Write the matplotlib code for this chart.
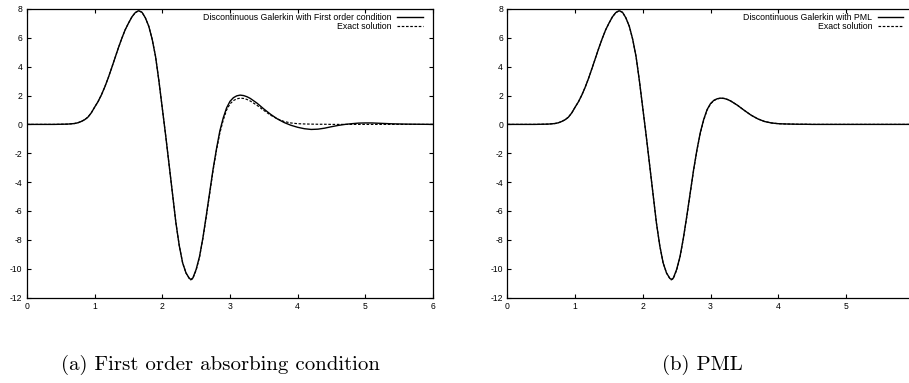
import matplotlib.pyplot as plt
import numpy as np

plt.rcParams['axes.unicode_minus'] = False
plt.rcParams['font.family'] = ['Liberation Sans', 'DejaVu Sans']

# values
x = [0.0, 0.2, 0.4, 0.5, 0.6, 0.7, 0.75, 0.8, 0.85, 0.9, 0.95, 1.0, 1.05, 1.1,
     1.15, 1.2, 1.25, 1.3, 1.35, 1.4, 1.45, 1.5,
     1.55, 1.6, 1.65, 1.7, 1.75, 1.8, 1.85, 1.9, 1.95, 2.0, 2.05, 2.1, 2.15,
     2.2, 2.25, 2.3, 2.35, 2.4, 2.42, 2.45, 2.5, 2.55, 2.6, 2.65, 2.7, 2.75,
     2.8, 2.85, 2.9, 2.95, 3.0, 3.05, 3.1, 3.15, 3.2, 3.25, 3.3, 3.4, 3.5,
     3.6, 3.7, 3.8, 3.9, 4.0, 4.1, 4.2, 4.3, 4.4, 4.5, 4.6, 4.7, 4.8, 4.9,
     5.0, 5.1, 5.2, 5.3, 5.4, 5.5, 5.6, 5.8, 6.0]

rise = [0.0, 0.0, 0.0, 0.01, 0.02, 0.06, 0.11, 0.2, 0.32, 0.5, 0.8, 1.2, 1.58, 2.05,
        2.6, 3.22, 3.9, 4.6, 5.3, 5.95, 6.55, 7.02,
        7.45, 7.75, 7.88, 7.77, 7.38, 6.8, 5.9, 4.7, 3.0, 1.1, -0.8, -2.8, -4.8]

exact = rise + [
    -6.8, -8.4, -9.6, -10.3, -10.7, -10.78, -10.7, -10.1, -9.2, -7.9, -6.4, -4.8, -3.2,
    -1.8, -0.6, 0.3, 1.0, 1.42, 1.65, 1.77, 1.82, 1.8, 1.73, 1.62, 1.32, 0.97,
    0.64, 0.38, 0.2, 0.1, 0.05, 0.03, 0.02, 0.01, 0.01, 0.0, 0.0, 0.0, 0.0, 0.0,
    0.0, 0.0, 0.0, 0.0, 0.0, 0.0, 0.0, 0.0, 0.0]

dg_first = rise + [
    -6.8, -8.4, -9.6, -10.3, -10.68, -10.74, -10.66, -10.05, -9.15, -7.85, -6.3, -4.7, -3.1,
    -1.7, -0.45, 0.45, 1.15, 1.6, 1.85, 1.98, 2.03, 2.0, 1.92, 1.8, 1.47, 1.07,
    0.7, 0.38, 0.13, -0.06, -0.2, -0.3, -0.35, -0.33, -0.26, -0.16, -0.07, 0.0, 0.05, 0.09,
    0.1, 0.1, 0.08, 0.06, 0.04, 0.03, 0.02, 0.01, 0.0]

dg_pml = rise + [
    -6.8, -8.4, -9.6, -10.3, -10.68, -10.74, -10.66, -10.05, -9.15, -7.85, -6.35, -4.75, -3.15,
    -1.75, -0.55, 0.35, 1.03, 1.44, 1.67, 1.78, 1.82, 1.8, 1.73, 1.62, 1.32, 0.97,
    0.64, 0.38, 0.2, 0.1, 0.05, 0.03, 0.02, 0.01, 0.01, 0.0, 0.0, 0.0, 0.0, 0.0,
    0.0, 0.0, 0.0, 0.0, 0.0, 0.0, 0.0, 0.0, 0.0]

xticks_a = [0, 1, 2, 3, 4, 5, 6]
xticks_b = [0, 1, 2, 3, 4, 5]   # the 6 falls off the right edge of the figure
yticks = [-12, -10, -8, -6, -4, -2, 0, 2, 4, 6, 8]

W, H = 909, 383
fig = plt.figure(figsize=(W / 100, H / 100), dpi=100)

def panel(left_px, dg, label, caption, cap_x, xticks):
    ax = fig.add_axes([left_px / W, (H - 297.5) / H, 406 / W, 288.5 / H])
    ax.plot(x, dg, color='black', lw=1.0, label=label)
    ax.plot(x, exact, color='black', lw=0.85, dashes=(2.2, 1.4), label='Exact solution')
    ax.set_xlim(0, 6)
    ax.set_ylim(-12, 8)
    ax.set_xticks(xticks)
    ax.set_yticks(yticks)
    ax.tick_params(direction='in', length=3, width=0.8, top=True, right=True,
                   labelsize=6.2, pad=3.2)
    for s in ax.spines.values():
        s.set_linewidth(0.9)
    leg = ax.legend(loc='upper right', frameon=False, markerfirst=False,
                    fontsize=6.3, handlelength=2.9, handletextpad=0.6,
                    labelspacing=0.0, borderaxespad=0.1,
                    bbox_to_anchor=(0.985, 1.0))
    for t in leg.get_texts():
        t.set_ha('right')
    fig.text(cap_x / W, 1 - 365 / H, caption, ha='center', va='center',
             family='cmr10', fontsize=15)
    return ax

panel(27, dg_first, 'Discontinuous Galerkin with First order condition',
      '(a) First order absorbing condition', 220, xticks_a)
panel(507.5, dg_pml, 'Discontinuous Galerkin with PML', '(b) PML', 702, xticks_b)

fig.savefig('out.png', dpi=100)
